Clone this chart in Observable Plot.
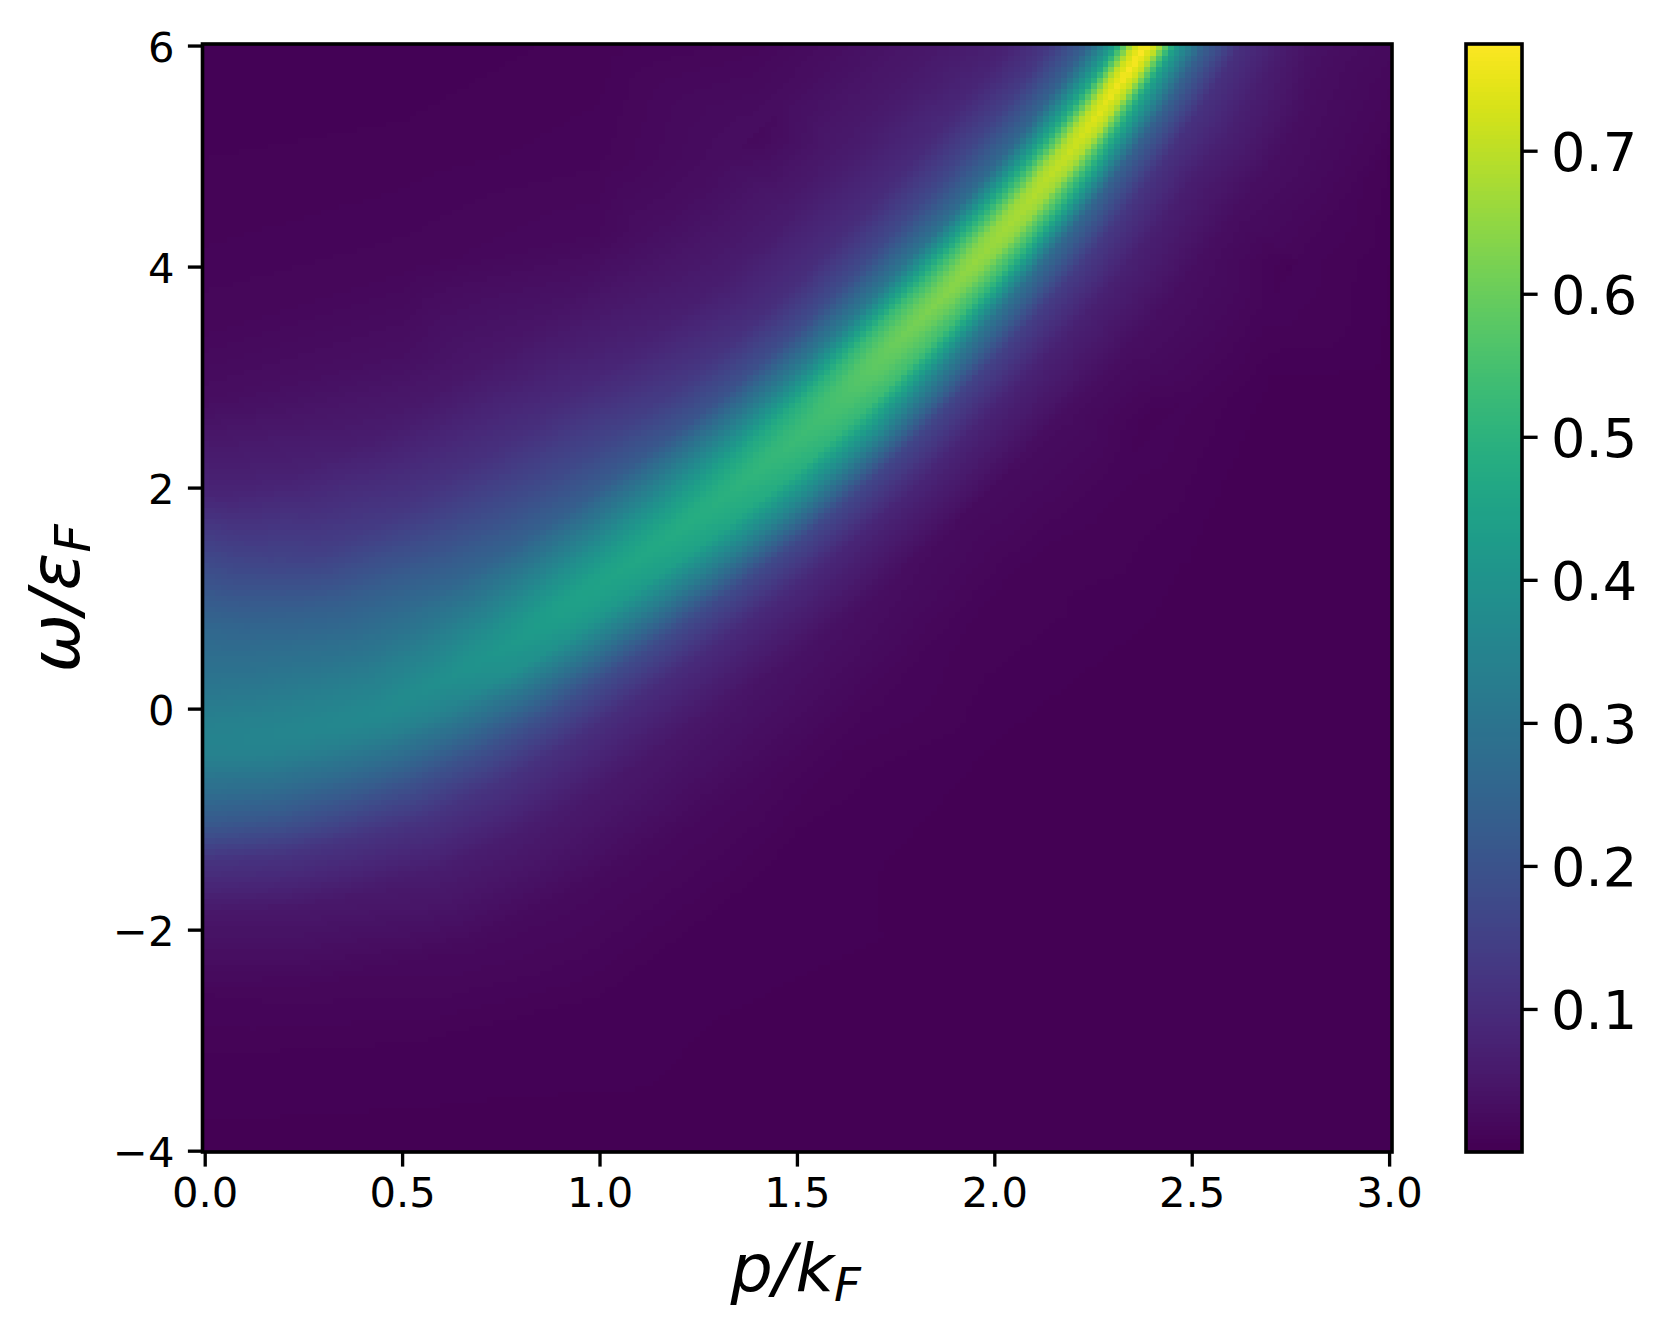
<!DOCTYPE html>
<html><head><meta charset="utf-8">
<script src="https://cdn.jsdelivr.net/npm/d3@7"></script>
<script src="https://cdn.jsdelivr.net/npm/@observablehq/plot@0.6"></script>
<style>
html,body{margin:0;padding:0;background:#fff}
#wrap{position:relative;width:1667px;height:1340px;overflow:hidden}
#wrap svg{position:absolute;top:0;background:transparent;max-width:none}
text{font-family:"DejaVu Sans"}
</style></head><body><div id="wrap"></div>
<script>
// Ridge stations
const stationP     = [-.15,0,.15,.3,.45,.6,.75,.9,1.05,1.2,1.3,1.38,1.46,1.54,1.62,1.7,1.78,1.86,1.94,2.02,2.1,2.18,2.26,2.34,2.42,2.5];
const stationOmega = [-.3,-.33,-.29,-.17,-.03,.24,.53,.88,1.24,1.62,1.88,2.1,2.33,2.58,2.84,3.12,3.41,3.7,4,4.31,4.64,4.99,5.37,5.78,6.22,6.67];
const stationSlope = [-.6,0,.6,1.05,1.35,1.8,2.2,2.35,2.45,2.6,2.75,2.9,3,3.2,3.35,3.5,3.7,3.85,4,4.2,4.4,4.7,5,5.4,5.6,5.9];
// Offsets across the ridge, in omega units (positive = above the ridge)
const crossOffsets = [2.262,1.538,1.041,.724,.452,.226,.09,0,-.09,-.226,-.452,-.724,-1.041,-1.538,-2.262];
// Spectral weight read across the ridge at each station
const crossValues = [
[.075,.175,.25,.28,.31,.34,.35,.35,.345,.32,.27,.205,.115,.048,.014],
[.08,.19,.26,.285,.31,.335,.345,.345,.34,.315,.27,.21,.115,.045,.012],
[.078,.175,.25,.282,.312,.338,.35,.35,.345,.32,.27,.205,.115,.048,.014],
[.075,.16,.24,.28,.314,.34,.355,.357,.35,.325,.268,.195,.115,.052,.016],
[.072,.145,.232,.276,.315,.345,.362,.366,.358,.33,.266,.185,.115,.058,.019],
[.067,.135,.222,.27,.315,.355,.375,.382,.37,.35,.28,.19,.115,.058,.02],
[.058,.122,.203,.255,.32,.375,.4,.41,.4,.385,.29,.185,.105,.052,.019],
[.05,.11,.185,.24,.325,.395,.43,.435,.43,.405,.305,.18,.098,.047,.018],
[.046,.103,.17,.23,.33,.41,.445,.455,.445,.42,.315,.175,.095,.043,.017],
[.042,.09,.155,.22,.335,.425,.465,.475,.465,.445,.33,.175,.09,.038,.015],
[.038,.08,.14,.21,.34,.44,.48,.49,.48,.46,.34,.172,.088,.034,.013],
[.035,.074,.13,.2,.34,.455,.495,.505,.495,.475,.35,.17,.085,.031,.012],
[.032,.068,.12,.195,.34,.47,.51,.52,.51,.49,.355,.168,.08,.028,.01],
[.03,.062,.11,.187,.335,.485,.525,.535,.53,.505,.36,.164,.08,.025,.009],
[.028,.058,.1,.18,.33,.5,.55,.555,.55,.52,.37,.165,.08,.023,.008],
[.027,.056,.099,.178,.325,.52,.575,.585,.575,.535,.355,.16,.078,.024,.009],
[.027,.055,.098,.175,.315,.525,.59,.61,.59,.54,.335,.155,.076,.025,.01],
[.027,.055,.096,.172,.305,.52,.605,.63,.605,.535,.315,.15,.074,.026,.01],
[.027,.054,.094,.168,.29,.52,.625,.65,.625,.53,.295,.14,.072,.028,.011],
[.027,.054,.092,.165,.275,.515,.645,.665,.645,.525,.275,.135,.07,.029,.011],
[.027,.052,.09,.16,.265,.51,.66,.685,.66,.52,.26,.13,.07,.03,.012],
[.025,.05,.08,.145,.255,.495,.675,.71,.675,.5,.245,.12,.065,.028,.011],
[.02,.04,.07,.125,.24,.48,.695,.74,.695,.48,.24,.11,.062,.027,.011],
[.016,.032,.065,.12,.23,.45,.705,.77,.705,.45,.24,.11,.07,.03,.012],
[.014,.03,.06,.115,.225,.435,.71,.775,.71,.435,.235,.105,.065,.028,.012],
[.013,.028,.058,.11,.22,.43,.71,.775,.71,.43,.23,.1,.06,.026,.011]
];
// Background points read away from the ridge: [p, omega, weight]
const farField = [
[-.15,6,.004],[-.15,-4,.002],
[0,6,.004],[0,5,.006],[0,4.2,.009],[0,3.4,.015],[0,2.8,.027],
[.5,6,.004],[.5,5,.007],[.5,4,.014],[.5,3.2,.03],
[1,6,.007],[1,5,.011],[1,4.3,.018],
[1.4,6,.014],[1.4,5.2,.018],
[2.8,6,.035],[3,6,.02],[3,5,.006],[3,4,.003],[2.75,4,.005],[3,3,.002],[2.7,3,.003],[2.4,2.6,.006],
[3,1.5,.0015],[2.5,1.2,.002],[2.4,.8,.003],[3,0,.001],[2,-.3,.003],[2.5,-1,.001],
[1.6,-.6,.007],[1.7,-1.5,.003],[1.4,-1.6,.005],[1,-2.6,.006],[.5,-3.1,.005],[0,-3.2,.005],
[0,-4,.002],[.6,-4,.0015],[1.2,-4,.001],[2,-4,.0008],[3,-4,.0008],[2,-2.5,.0012],[3,-2,.0008]
];
const xTicks = [0,.5,1,1.5,2,2.5,3];
const xTickLabels = ["0.0","0.5","1.0","1.5","2.0","2.5","3.0"];
const yTicks = [-4,-2,0,2,4,6];
const yTickLabels = ["\u22124","\u22122","0","2","4","6"];
const barTicks = [.1,.2,.3,.4,.5,.6,.7];
const barTickLabels = ["0.1","0.2","0.3","0.4","0.5","0.6","0.7"];
const colorDomain = [0,.775];

const xDomain = [-.0056,3.0073], yDomain = [-4.012,6.014];
const aspect = (1189.5/(xDomain[1]-xDomain[0]))/(1108/(yDomain[1]-yDomain[0]));
const samples = [];
stationP.forEach((p0,i)=>{
  const th = Math.atan(stationSlope[i]/aspect);
  crossOffsets.forEach((d,j)=>{
    samples.push({p:p0-d*Math.sin(th)/aspect, w:stationOmega[i]+d*Math.cos(th), v:crossValues[i][j]});
  });
});
farField.forEach(([p,w,v])=>samples.push({p,w,v}));

const font = "DejaVu Sans";
const color = {type:"linear",scheme:"viridis",domain:colorDomain,clamp:true};
const spine = (xd,yd)=>Plot.rect([0],{x1:xd[0],x2:xd[1],y1:yd[0],y2:yd[1],fill:null,stroke:"black",strokeWidth:3.6});
const main = Plot.plot({
  width:1440,height:1340,marginLeft:202.5,marginRight:48,marginTop:44,marginBottom:188,
  style:{background:"transparent",fontFamily:font},
  x:{domain:xDomain,axis:null},y:{domain:yDomain,axis:null},color,
  marks:[
    Plot.raster(samples,{x:"p",y:"w",fill:"v",interpolate:"barycentric",width:201,height:201,imageRendering:"pixelated"}),
    Plot.axisX(xTicks,{anchor:"bottom",tickSize:14.6,tickPadding:10,strokeWidth:3.33,fontSize:41.67,fill:"black",tickFormat:(d,i)=>xTickLabels[i],label:null}),
    Plot.axisY(yTicks,{anchor:"left",tickSize:14.6,strokeWidth:3.33,tickFormat:()=>"",label:null}),
    Plot.axisY(yTicks,{anchor:"left",tickSize:0,tickPadding:28.6,dy:2.5,fontSize:41.67,fill:"black",tickFormat:(d,i)=>yTickLabels[i],label:null}),
    spine(xDomain,yDomain),
    Plot.text(["p/kF"],{frameAnchor:"bottom",dy:117,dx:-2,fontSize:66.7,fontStyle:"italic",fill:"black",textAnchor:"middle",lineAnchor:"middle"}),
    Plot.text(["\u03c9/\u03b5F"],{frameAnchor:"left",dx:-146,rotate:-90,fontSize:70,fontStyle:"italic",fill:"black",textAnchor:"middle",lineAnchor:"middle"})
  ]
});
main.style.left="0px";
// subscript F as real text in the axis labels
d3.select(main).selectAll("text").each(function(){
  const t=this.textContent;
  if(t==="p/kF"||t==="\u03c9/\u03b5F"){
    const base=t.slice(0,-1);
    const el=d3.select(this); el.text(null);
    el.append("tspan").text(base);
    el.append("tspan").attr("dy","0.22em").attr("font-size","0.7em").text("F");
  }
});
document.getElementById("wrap").appendChild(main);

const barY=[0,.7746];
const ramp=d3.range(0,256).map(i=>barY[0]+(barY[1]-barY[0])*i/256);
const bar = Plot.plot({
  width:227,height:1340,marginLeft:26,marginRight:145,marginTop:44,marginBottom:188,
  style:{background:"transparent",fontFamily:font},
  x:{domain:[0,1],axis:null},y:{domain:barY,axis:null},color,
  marks:[
    Plot.rect(ramp,{x1:0,x2:1,y1:d=>d,y2:d=>d+(barY[1]-barY[0])/256,fill:d=>d,shapeRendering:"crispEdges"}),
    Plot.axisY(barTicks,{anchor:"right",tickSize:14.6,strokeWidth:3.33,tickFormat:()=>"",label:null}),
    Plot.axisY(barTicks,{anchor:"right",tickSize:0,tickPadding:28.6,dy:2,fontSize:54.2,fill:"black",tickFormat:(d,i)=>barTickLabels[i],label:null}),
    spine([0,1],barY)
  ]
});
bar.style.left="1440px";
document.getElementById("wrap").appendChild(bar);
</script></body></html>
